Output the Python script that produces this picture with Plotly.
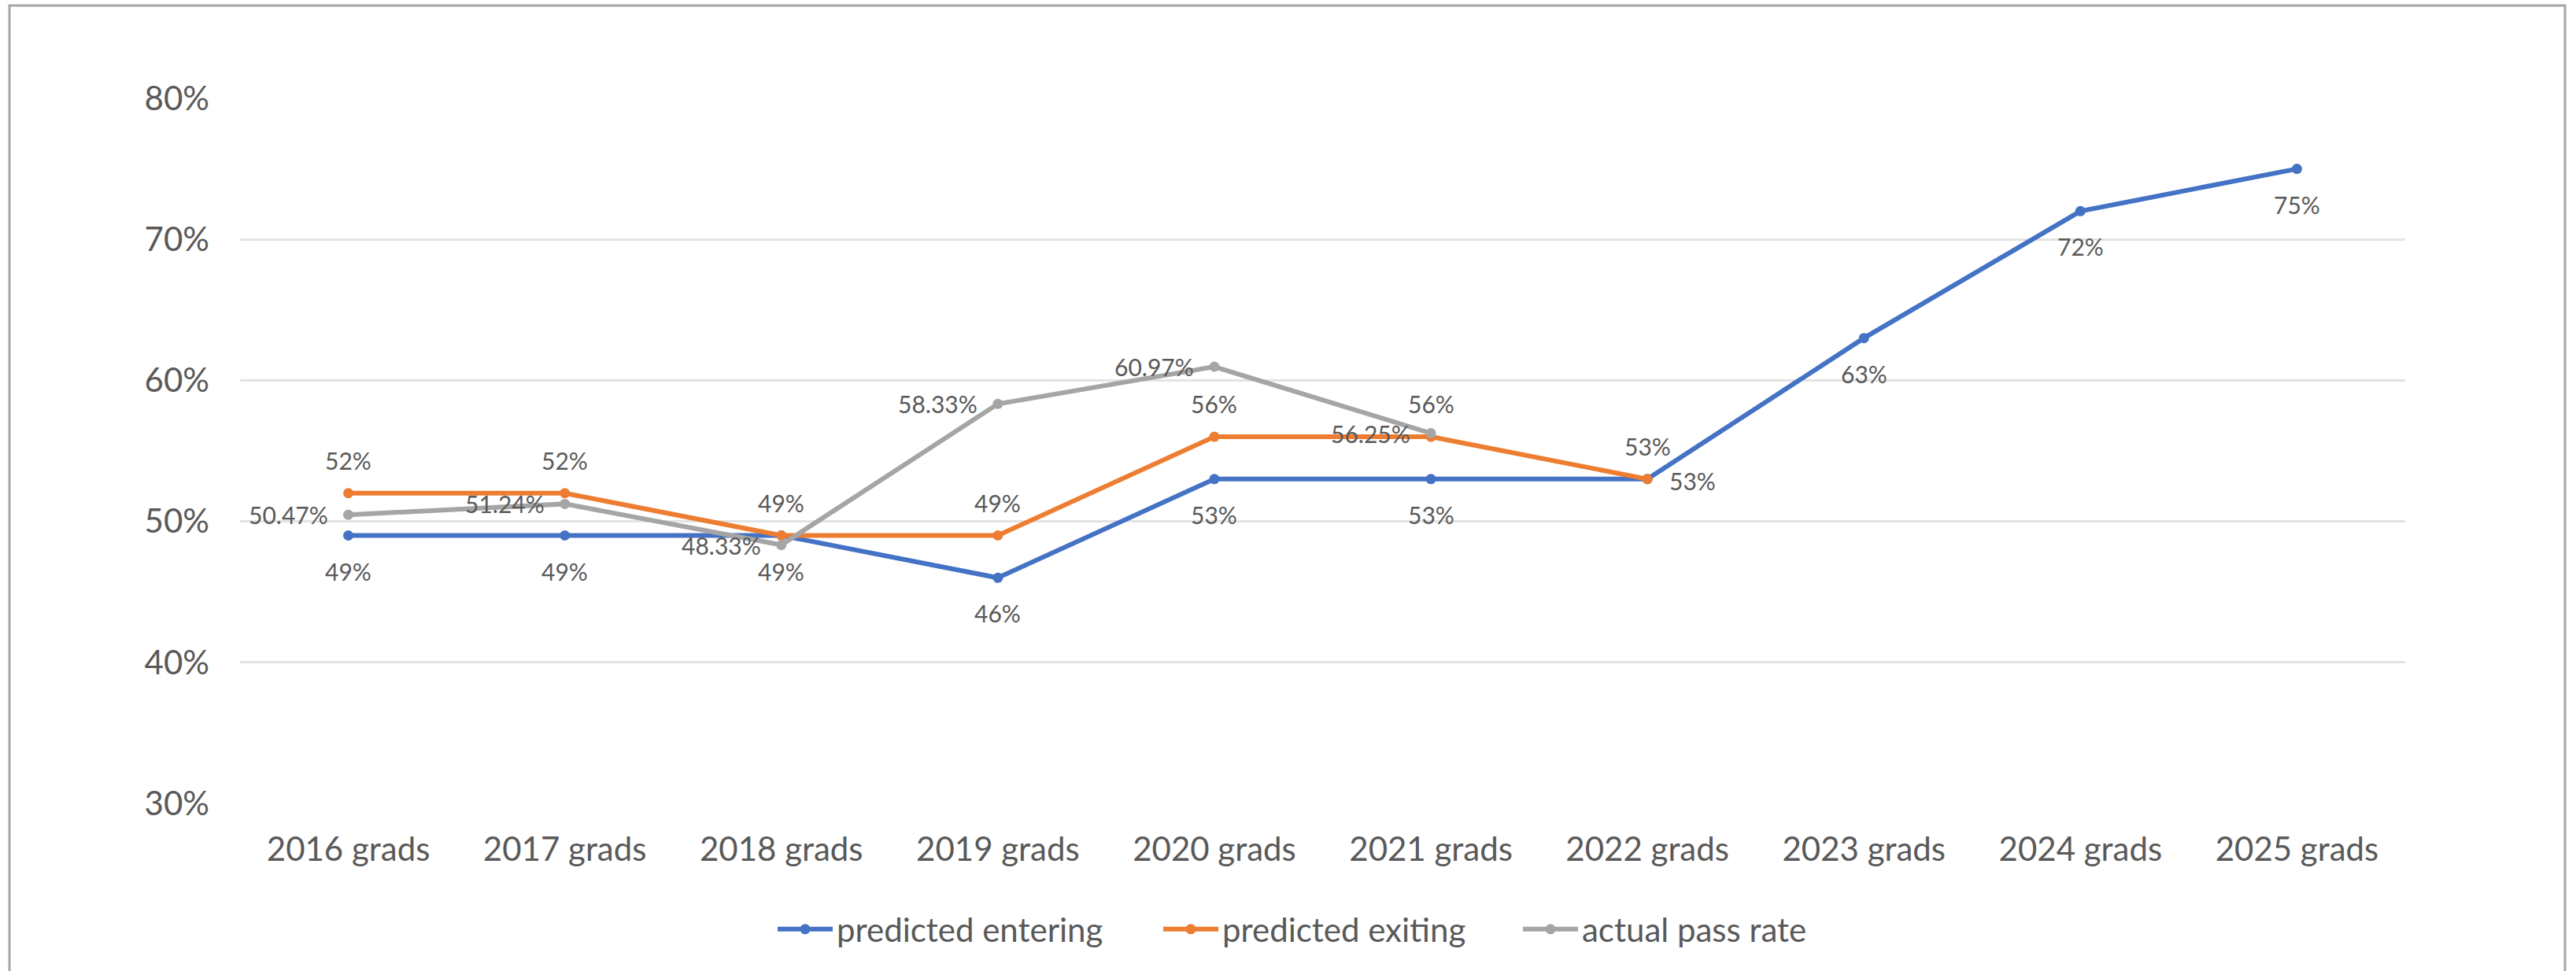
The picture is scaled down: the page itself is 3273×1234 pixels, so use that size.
import plotly.graph_objects as go

# ---- data ----
categories = ["2016 grads", "2017 grads", "2018 grads", "2019 grads", "2020 grads",
              "2021 grads", "2022 grads", "2023 grads", "2024 grads", "2025 grads"]
predicted_entering = [49, 49, 49, 46, 53, 53, 53, 63, 72, 75]
predicted_exiting = [52, 52, 49, 49, 56, 56, 53, None, None, None]
actual_pass_rate = [50.47, 51.24, 48.33, 58.33, 60.97, 56.25, None, None, None, None]
y_ticks = [30, 40, 50, 60, 70, 80]

# ---- styles ----
BLUE = "#4472C4"
ORANGE = "#ED7D31"
GRAY = "#A5A5A5"
TEXT = "#595959"
FONT = "Lato, 'Open Sans', sans-serif"

entering_pos = ["below"] * 6 + ["right"] + ["below"] * 3
exiting_pos = ["above"] * 10
actual_pos = ["left"] * 10

POS = {
    "above": dict(xanchor="center", yanchor="middle", xshift=0, yshift=42),
    "below": dict(xanchor="center", yanchor="middle", xshift=0, yshift=-45),
    "left": dict(xanchor="right", yanchor="middle", xshift=-24, yshift=0),
    "right": dict(xanchor="left", yanchor="middle", xshift=26, yshift=-2),
}

# plot area in pixels
L, R, T, B = 305, 217, 125, 213
W, H = 3273, 1234
pw, ph = W - L - R, H - T - B


def px_x(x):
    return (x - L) / pw


def px_y(y):
    return (H - B - y) / ph


fig = go.Figure()
annotations = []
series = [
    ("predicted entering", predicted_entering, BLUE, entering_pos, "{:.0f}%", "legend", 991),
    ("predicted exiting", predicted_exiting, ORANGE, exiting_pos, "{:.0f}%", "legend2", 1481),
    ("actual pass rate", actual_pass_rate, GRAY, actual_pos, "{:.2f}%", "legend3", 1938),
]
legend_defs = {}
for name, vals, col, pos, fmt, leg, lx in series:
    fig.add_trace(go.Scatter(
        x=categories, y=vals, name=name, mode="lines+markers",
        line=dict(color=col, width=6),
        marker=dict(color=col, size=13, symbol="circle"),
        cliponaxis=False, connectgaps=False, legend=leg,
    ))
    for c, v, p in zip(categories, vals, pos):
        if v is None:
            continue
        annotations.append(dict(
            x=c, y=v, xref="x", yref="y", text=fmt.format(v), showarrow=False,
            font=dict(family=FONT, size=30, color=TEXT), **POS[p]))
    legend_defs[leg] = dict(
        orientation="h", x=px_x(lx - 8), xanchor="left",
        y=px_y(1181), yanchor="middle",
        font=dict(family=FONT, size=42, color=TEXT),
        itemwidth=70, bgcolor="rgba(0,0,0,0)", borderwidth=0)

fig.update_layout(
    width=W, height=H,
    margin=dict(l=L, r=R, t=T, b=B, autoexpand=False),
    paper_bgcolor="white", plot_bgcolor="white",
    font=dict(family=FONT, color=TEXT, size=42),
    showlegend=True,
    legend=legend_defs["legend"],
    legend2=legend_defs["legend2"],
    legend3=legend_defs["legend3"],
    xaxis=dict(type="category", range=[-0.5, 9.5], showgrid=False,
               showline=False, zeroline=False, ticks="",
               tickfont=dict(family=FONT, size=42, color=TEXT),
               ticklabelstandoff=30),
    yaxis=dict(range=[30, 80], tickvals=y_ticks,
               ticktext=[f"{v}%" for v in y_ticks],
               showgrid=True, gridcolor="#E3E3E3", gridwidth=3,
               showline=False, zeroline=False, ticks="",
               tickfont=dict(family=FONT, size=42, color=TEXT),
               ticklabelstandoff=38),
    annotations=annotations,
    shapes=[dict(type="rect", xref="paper", yref="paper",
                 x0=px_x(12), x1=px_x(3259), y0=px_y(1260), y1=px_y(7),
                 line=dict(color="#A6A6A6", width=3), fillcolor="rgba(0,0,0,0)")],
)

fig.write_html("out.html", config={"displayModeBar": False},
               post_script="document.body.style.margin='0';document.body.style.overflow='hidden';")
